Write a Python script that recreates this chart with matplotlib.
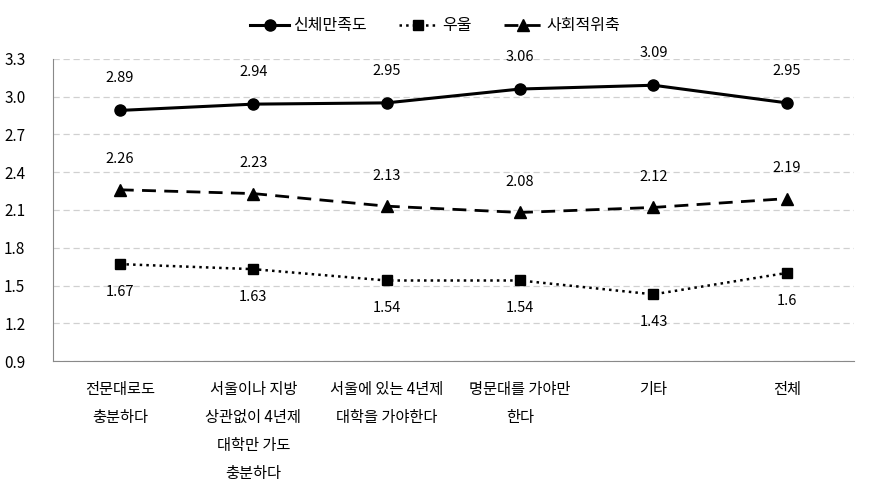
import matplotlib as mpl
mpl.use('Agg')
import matplotlib.pyplot as plt
import numpy as np

plt.rcParams['font.family'] = ['Noto Sans CJK KR', 'DejaVu Sans']

categories = ['전문대로도\n충분하다', '서울이나 지방\n상관없이 4년제\n대학만 가도\n충분하다',
              '서울에 있는 4년제\n대학을 가야한다', '명문대를 가야만\n한다', '기타', '전체']
body = [2.89, 2.94, 2.95, 3.06, 3.09, 2.95]
depress = [1.67, 1.63, 1.54, 1.54, 1.43, 1.6]
withdraw = [2.26, 2.23, 2.13, 2.08, 2.12, 2.19]
yticks = [0.9, 1.2, 1.5, 1.8, 2.1, 2.4, 2.7, 3.0, 3.3]

fig = plt.figure(figsize=(8.71, 4.94), dpi=100)
ax = fig.add_axes([0.061, 0.269, 0.919, 0.612])
x = np.arange(len(categories))

ax.plot(x, body, '-', color='black', lw=2.2, marker='o', ms=8, label='신체만족도')
ax.plot(x, depress, ':', color='black', lw=1.8, marker='s', ms=7, label='우울')
ax.plot(x, withdraw, '--', color='black', lw=2.0, dashes=(5, 3), marker='^', ms=8, label='사회적위축')

for i in range(len(x)):
    ax.annotate('{:g}'.format(body[i]), (x[i], body[i]), xytext=(0, 18), textcoords='offset points',
                ha='center', va='bottom', fontsize=10.5)
    ax.annotate('{:g}'.format(withdraw[i]), (x[i], withdraw[i]), xytext=(0, 17), textcoords='offset points',
                ha='center', va='bottom', fontsize=10.5)
    ax.annotate('{:g}'.format(depress[i]), (x[i], depress[i]), xytext=(0, -15), textcoords='offset points',
                ha='center', va='top', fontsize=10.5)

ax.set_xlim(-0.5, len(x) - 0.5)
ax.set_ylim(0.9, 3.3)
ax.set_yticks(yticks)
ax.set_yticklabels(['{:.1f}'.format(t) for t in yticks], fontsize=11)
ax.set_xticks(x)
ax.set_xticklabels(categories, fontsize=11, linespacing=1.85, va='top')
ax.tick_params(axis='y', length=0, pad=20)
ax.tick_params(axis='x', length=0, pad=14)
ax.yaxis.grid(True, color='#d0d0d0', ls=(0, (5, 3)), lw=0.9)
ax.set_axisbelow(True)
for s in ['top', 'right']:
    ax.spines[s].set_visible(False)
for s in ['left', 'bottom']:
    ax.spines[s].set_color('#898989')

fig.legend(loc='center', bbox_to_anchor=(0.5, 0.948), ncol=3, frameon=False, fontsize=11.5,
           handlelength=2.4, columnspacing=2.0, handletextpad=0.3)

fig.savefig('out.png', dpi=100)
